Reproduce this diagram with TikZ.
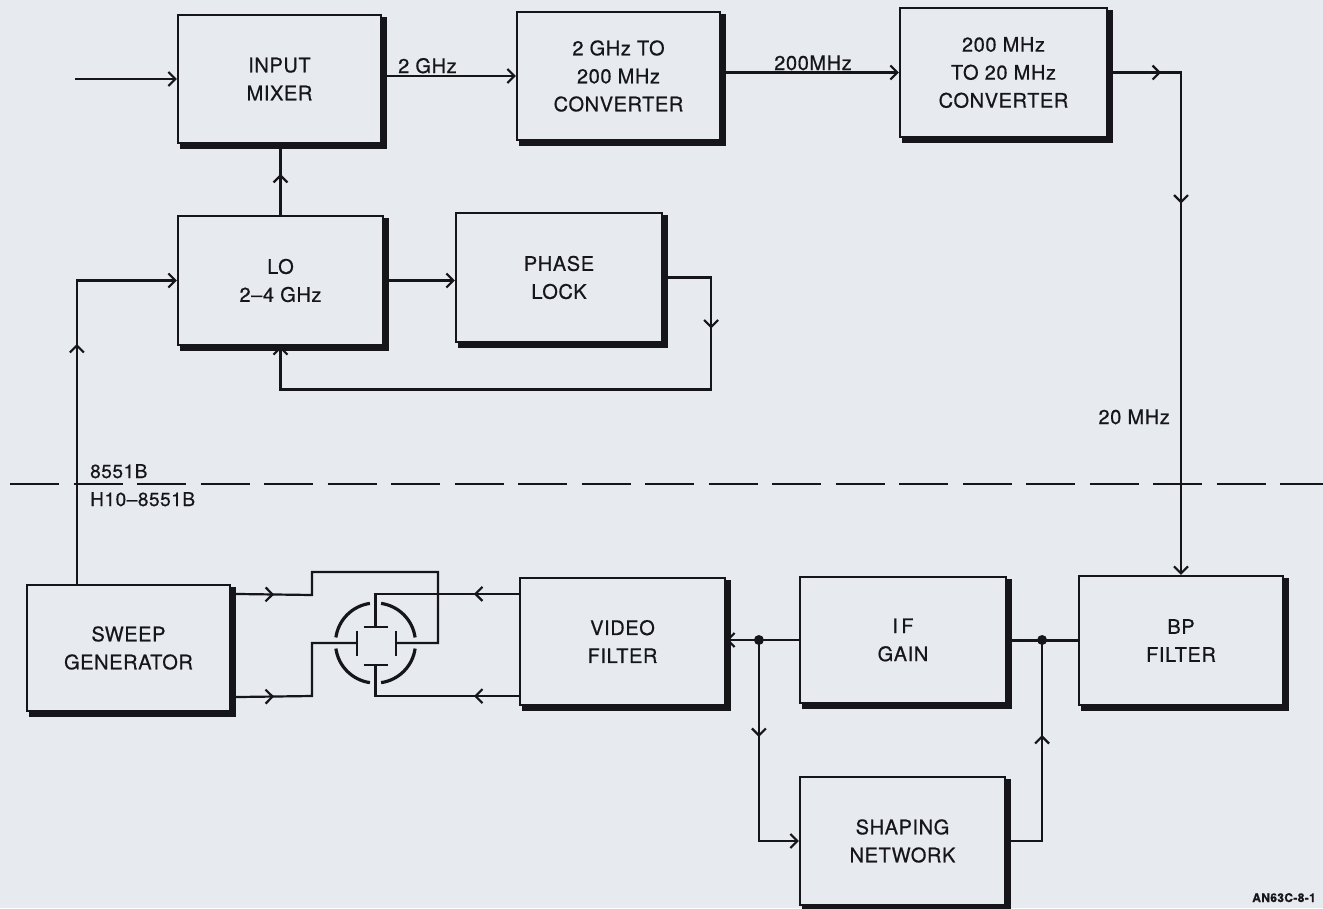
\documentclass[tikz,border=0pt]{standalone}
\usepackage{fontspec}
\setmainfont{TeX Gyre Heros}[FakeBold=0.6, LetterSpace=3]
\usetikzlibrary{arrows.meta,decorations.markings,calc}
\definecolor{paper}{RGB}{231,235,240}
\definecolor{ink}{RGB}{22,22,26}
\tikzset{
  bb/.tip={Straight Barb[length=7pt,width=14pt]},
  box/.style={draw=ink, line width=2.2pt, fill=paper, inner sep=0pt, align=center,
    text=ink, font=\fontsize{20}{28}\selectfont},
  wire/.style={draw=ink, line width=2.2pt},
  lbl/.style={text=ink, inner sep=0pt, font=\fontsize{20}{24}\selectfont},
  marr/.style={postaction={decorate, decoration={markings, mark=at position #1 with {\arrow{bb}}}}},
}
\begin{document}
\begin{tikzpicture}[x=1pt,y=-1pt]
\useasboundingbox (0,0) rectangle (1323,908);
\fill[paper] (0,0) rectangle (1323,908);

% dashed boundary
\coordinate (dl) at (10,484);
\coordinate (dr) at (1323,484);
\draw[ink, line width=2.4pt, dash pattern=on 49pt off 14.5pt] (dl) -- (dr);

% boxes
\node[box, minimum width=203pt, minimum height=128pt] (mix)   at (279.5,79)   {INPUT\\MIXER};
\node[box, minimum width=203pt, minimum height=128pt] (conv1) at (618.5,76)   {2 GHz TO\\200 MHz\\CONVERTER};
\node[box, minimum width=207pt, minimum height=129pt] (conv2) at (1003.5,72.5){200 MHz\\TO 20 MHz\\CONVERTER};
\node[box, minimum width=205pt, minimum height=129pt] (lo)    at (280.5,280.5){LO\\2–4 GHz};
\node[box, minimum width=206pt, minimum height=129pt] (pl)    at (559,277.5)  {PHASE\\LOCK};
\node[box, minimum width=203pt, minimum height=126pt] (sweep) at (128.5,648)  {SWEEP\\GENERATOR};
\node[box, minimum width=205pt, minimum height=127pt] (video) at (622.5,641.5){VIDEO\\FILTER};
\node[box, minimum width=206pt, minimum height=126pt] (ifg)   at (903,640)    {I\,F\\GAIN};
\node[box, minimum width=204pt, minimum height=129pt] (bp)    at (1181,640.5) {BP\\FILTER};
\node[box, minimum width=205pt, minimum height=128pt] (shape) at (902.5,841)  {SHAPING\\NETWORK};

% heavy shadow edges
\foreach \n in {mix,conv1,conv2,lo,pl,sweep,video,ifg,bp,shape}{
  \draw[ink, line width=5pt] ($(\n.north east)+(2,3.5)$) -- ($(\n.south east)+(2,2)$) -- ($(\n.south west)+(3.5,2)$);
}

% input
\coordinate (inp) at (75,79);
\draw[wire,-bb] (inp) -- (mix.west);

% mixer -> converter 1
\draw[wire,-bb] (mix.east |- conv1.west) -- (conv1.west);
\node[lbl, anchor=base west] (l2g) at (398,73) {2 GHz};

% converter 1 -> converter 2
\draw[wire,-bb] (conv1.east |- conv2.west) -- (conv2.west);
\node[lbl, anchor=base] (l200) at (813,70) {200MHz};

% converter 2 -> BP filter
\coordinate (c2r) at (bp.north |- conv2.east);
\draw[wire,-bb,marr=53pt,marr=204pt] (conv2.east) -- (c2r) -- (bp.north);
\node[lbl, anchor=base east] (l20) at (1170,424) {20 MHz};

% LO -> mixer
\draw[wire,marr=41pt] (lo.north) -- (lo.north |- mix.south);

% LO -> phase lock
\draw[wire,-bb] (lo.east) -- (lo.east -| pl.west);

% phase lock -> LO
\coordinate (plr) at ($(pl.east)+(48,0)$);
\coordinate (plb) at ($(plr)+(0,112)$);
\coordinate (lob) at (lo.south |- plb);
\draw[wire,-bb,marr=99pt] (pl.east) -- (plr) -- (plb) -- (lob) -- (lo.south);

% sweep -> LO
\coordinate (swt) at ($(sweep.north west)+(51,0)$);
\coordinate (swc) at (swt |- lo.west);
\draw[wire,-bb,marr=240pt] (swt) -- (swc) -- (lo.west);

% CRT
\coordinate (crt) at (375.5,643);
\foreach \a in {8,98,188,278}{
  \draw[ink, line width=3.2pt] ($(crt)+(\a:40)$) arc[start angle=\a, end angle=\a+74, radius=40];
}
\coordinate (pL) at ($(crt)+(-18.5,0)$);
\coordinate (pR) at ($(crt)+(20.5,0)$);
\coordinate (pT) at ($(crt)+(0,-16)$);
\coordinate (pB) at ($(crt)+(0,22)$);
\draw[wire] ($(pL)+(0,-12)$) -- ($(pL)+(0,13)$);
\draw[wire] ($(pR)+(0,-12)$) -- ($(pR)+(0,13)$);
\draw[wire] ($(pT)+(-12,0)$) -- ($(pT)+(12,0)$);
\draw[wire] ($(pB)+(-12,0)$) -- ($(pB)+(12,0)$);

% sweep -> horizontal plates
\coordinate (s1) at ($(sweep.north east)+(0,10)$);
\coordinate (s1a) at (312,595);
\coordinate (s1b) at (312,572);
\coordinate (s1c) at (438,572);
\coordinate (s1d) at (438,643);
\draw[wire,marr=43pt] (s1) -- (s1a) -- (s1b) -- (s1c) -- (s1d) -- (pR);
\coordinate (s2) at ($(sweep.south east)+(0,-15)$);
\coordinate (s2a) at (312,696);
\coordinate (s2b) at (312,643);
\draw[wire,marr=43pt] (s2) -- (s2a) -- (s2b) -- (pL);

% video -> vertical plates
\coordinate (v1) at ($(video.north west)+(0,17)$);
\coordinate (v1a) at (v1 -| crt);
\draw[wire,marr=45pt] (v1) -- (v1a) -- (pT);
\coordinate (v2) at ($(video.south west)+(0,-10)$);
\coordinate (v2a) at (v2 -| crt);
\draw[wire,marr=45pt] (v2) -- (v2a) -- (pB);

% IF gain -> video filter and shaping network
\draw[wire,-bb] (ifg.west) -- (ifg.west -| video.east);
\coordinate (d1) at ($(ifg.west)+(-40,0)$);
\fill[ink] (d1) circle (5);
\coordinate (d1b) at (d1 |- shape.west);
\draw[wire,-bb,marr=97pt] (d1) -- (d1b) -- (shape.west);

% BP filter -> IF gain, shaping network return
\draw[wire] (bp.west) -- (bp.west -| ifg.east);
\coordinate (d2) at ($(ifg.east)+(35,0)$);
\fill[ink] (d2) circle (5);
\coordinate (d2b) at (d2 |- shape.east);
\draw[wire,marr=142pt] (shape.east) -- (d2b) -- (d2);

% labels
\node[lbl, anchor=base west, font=\fontsize{19}{22}\selectfont] (t1) at (90,478) {8551B};
\node[lbl, anchor=base west, font=\fontsize{19}{22}\selectfont] (t2) at (90,506) {H10–8551B};
\node[lbl, anchor=base east, font=\bfseries\fontsize{12}{14}\selectfont] (fig) at (1316,902) {AN63C-8-1};
\end{tikzpicture}
\end{document}
